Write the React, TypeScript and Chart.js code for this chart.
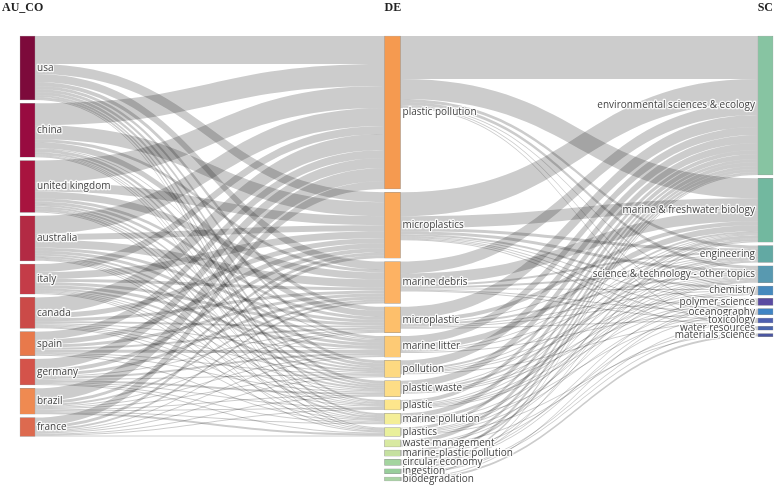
import React, { useEffect, useRef } from 'react';
import { Chart, registerables } from 'chart.js';

Chart.register(...registerables);

// ---------- data ----------
const columnTitles = ['AU_CO', 'DE', 'SC'];

const countries = ['usa', 'china', 'united kingdom', 'australia', 'italy', 'canada', 'spain', 'germany', 'brazil', 'france'];
const countryColors = ['#7d0a3b', '#980b40', '#a8143f', '#b32a44', '#c43c48', '#cb4a48', '#e8794b', '#d4534a', '#ef8a51', '#dd6a4f'];

const keywords = ['plastic pollution', 'microplastics', 'marine debris', 'microplastic', 'marine litter', 'pollution', 'plastic waste', 'plastic', 'marine pollution', 'plastics', 'waste management', 'marine-plastic pollution', 'circular economy', 'ingestion', 'biodegradation'];
const keywordColors = ['#f59a50', '#fba95b', '#fdb263', '#fdbf6b', '#fdca75', '#fdd981', '#fddd86', '#fde68c', '#f4ee98', '#e9f09c', '#d8e9a1', '#c5e0a0', '#a4d49f', '#98ce9b', '#a9d4a4'];

const subjects = ['environmental sciences & ecology', 'marine & freshwater biology', 'engineering', 'science & technology - other topics', 'chemistry', 'polymer science', 'oceanography', 'toxicology', 'water resources', 'materials science'];
const subjectColors = ['#87c4a2', '#72b89f', '#62a9a3', '#5899b0', '#4689bd', '#5a4ba1', '#3f84c4', '#4e60b0', '#4a66ad', '#4b56a0'];

// country -> keyword flows (rows: countries, columns: first 10 keywords)
const countryKeywordFlows = [
  [28, 10, 8, 4, 3, 3, 3, 2, 2, 1],
  [22, 14, 3, 6, 1, 3, 2, 1, 1, 1],
  [22, 9, 7, 3, 3, 2, 2, 1, 2, 1],
  [18, 6, 8, 3, 3, 2, 2, 1, 1, 1],
  [8, 7, 3, 3, 3, 2, 1, 1, 1, 1],
  [16, 5, 3, 2, 1, 1, 1, 1, 1, 0],
  [8, 5, 3, 2, 3, 1, 1, 0, 1, 0],
  [10, 4, 3, 1, 2, 1, 2, 1, 1, 1],
  [13, 3, 2, 1, 1, 1, 1, 1, 1, 2],
  [8, 3, 2, 1, 1, 1, 1, 1, 0, 1],
];

// keyword -> subject flows (rows: keywords, columns: subjects)
const keywordSubjectFlows = [
  [43, 20, 3, 3, 1, 0, 1, 0, 1, 0],
  [24, 12, 3, 3, 2, 1, 1, 1, 1, 0],
  [12, 11, 2, 2, 1, 0, 1, 1, 0, 0],
  [12, 4, 1, 2, 1, 1, 0, 1, 0, 0],
  [8, 6, 1, 1, 0, 0, 1, 0, 0, 0],
  [8, 2, 1, 1, 1, 0, 0, 1, 0, 0],
  [7, 1, 2, 1, 1, 1, 0, 0, 0, 0],
  [4, 1, 1, 1, 1, 1, 0, 0, 0, 0],
  [5, 3, 0, 1, 0, 0, 1, 0, 0, 0],
  [3, 1, 1, 1, 0, 1, 0, 0, 0, 1],
  [4, 0, 1, 1, 0, 0, 0, 0, 1, 0],
  [3, 2, 0, 0, 0, 0, 1, 0, 0, 0],
  [3, 0, 1, 0, 1, 1, 0, 0, 0, 0],
  [2, 1, 0, 0, 0, 0, 0, 1, 1, 0],
  [1, 0, 0, 0, 0, 1, 0, 0, 0, 2],
];

// ---------- layout constants ----------
const colX = [0, 0.4946, 1];
const nodeWidth = [15, 16, 15];
const nodePad = 3.3;
const labelFont = "10px 'Open Sans', sans-serif";
const titleFont = "bold 12px 'Liberation Serif', serif";

type NodeL = { col: number; idx: number; name: string; color: string; value: number; y0: number; y1: number; inOff: number; outOff: number };
type LinkL = { sc: number; si: number; tc: number; ti: number; v: number; sy0: number; ty0: number };

function buildLayout() {
  const names = [countries, keywords, subjects];
  const colors = [countryColors, keywordColors, subjectColors];
  const links: LinkL[] = [];
  countryKeywordFlows.forEach((row, i) => row.forEach((v, j) => { if (v > 0) links.push({ sc: 0, si: i, tc: 1, ti: j, v, sy0: 0, ty0: 0 }); }));
  keywordSubjectFlows.forEach((row, i) => row.forEach((v, j) => { if (v > 0) links.push({ sc: 1, si: i, tc: 2, ti: j, v, sy0: 0, ty0: 0 }); }));
  const nodes: NodeL[][] = names.map((arr, c) => arr.map((name, i) => {
    const inV = links.filter(l => l.tc === c && l.ti === i).reduce((a, l) => a + l.v, 0);
    const outV = links.filter(l => l.sc === c && l.si === i).reduce((a, l) => a + l.v, 0);
    return { col: c, idx: i, name, color: colors[c][i], value: Math.max(inV, outV), y0: 0, y1: 0, inOff: 0, outOff: 0 };
  }));
  let yMax = 0;
  nodes.forEach(col => {
    let y = 0;
    col.forEach((n, k) => { n.y0 = y; n.y1 = y + n.value; y = n.y1 + (k < col.length - 1 ? nodePad : 0); });
    yMax = Math.max(yMax, y);
  });
  // outgoing ordered by target position, incoming ordered by source position
  const sorted = [...links].sort((a, b) => a.tc - b.tc || a.ti - b.ti);
  sorted.forEach(l => { const s = nodes[l.sc][l.si]; l.sy0 = s.y0 + s.outOff; s.outOff += l.v; });
  const sorted2 = [...links].sort((a, b) => a.sc - b.sc || a.si - b.si);
  sorted2.forEach(l => { const t = nodes[l.tc][l.ti]; l.ty0 = t.y0 + t.inOff; t.inOff += l.v; });
  return { nodes, links, yMax };
}

function drawText(ctx: CanvasRenderingContext2D, text: string, x: number, y: number, align: CanvasTextAlign) {
  ctx.font = labelFont;
  ctx.textAlign = align;
  ctx.textBaseline = 'middle';
  ctx.lineJoin = 'round';
  ctx.strokeStyle = 'rgba(255,255,255,0.85)';
  ctx.lineWidth = 2.5;
  ctx.strokeText(text, x, y);
  ctx.fillStyle = '#444';
  ctx.fillText(text, x, y);
}

export default function App() {
  const ref = useRef<HTMLCanvasElement | null>(null);
  useEffect(() => {
    if (!ref.current) return;
    const { nodes, links, yMax } = buildLayout();

    const sankeyPlugin = {
      id: 'sankeyLinks',
      beforeDatasetsDraw(chart: any) {
        const ctx: CanvasRenderingContext2D = chart.ctx;
        const xs = chart.scales.x, ys = chart.scales.y;
        ctx.save();
        ctx.fillStyle = 'rgba(0,0,0,0.2)';
        links.forEach(l => {
          const x0 = xs.getPixelForValue(colX[l.sc]) + nodeWidth[l.sc] / 2;
          const x1 = xs.getPixelForValue(colX[l.tc]) - nodeWidth[l.tc] / 2;
          const xm = (x0 + x1) / 2;
          const a0 = ys.getPixelForValue(l.sy0), a1 = ys.getPixelForValue(l.sy0 + l.v);
          const b0 = ys.getPixelForValue(l.ty0), b1 = ys.getPixelForValue(l.ty0 + l.v);
          ctx.beginPath();
          ctx.moveTo(x0, a0);
          ctx.bezierCurveTo(xm, a0, xm, b0, x1, b0);
          ctx.lineTo(x1, b1);
          ctx.bezierCurveTo(xm, b1, xm, a1, x0, a1);
          ctx.closePath();
          ctx.fill();
        });
        ctx.restore();
      },
      afterDatasetsDraw(chart: any) {
        const ctx: CanvasRenderingContext2D = chart.ctx;
        const xs = chart.scales.x, ys = chart.scales.y;
        ctx.save();
        nodes.forEach((col, c) => col.forEach(n => {
          const xc = xs.getPixelForValue(colX[c]);
          const yc = ys.getPixelForValue((n.y0 + n.y1) / 2);
          if (c === 2) drawText(ctx, n.name, xc - nodeWidth[c] / 2 - 3, yc, 'right');
          else drawText(ctx, n.name, xc + nodeWidth[c] / 2 + 2, yc, 'left');
        }));
        ctx.font = titleFont;
        ctx.fillStyle = '#222';
        ctx.textBaseline = 'middle';
        ctx.textAlign = 'left';
        ctx.fillText(columnTitles[0], 2, 8);
        ctx.fillText(columnTitles[1], xs.getPixelForValue(colX[1]) - nodeWidth[1] / 2, 8);
        ctx.textAlign = 'right';
        ctx.fillText(columnTitles[2], xs.getPixelForValue(colX[2]) + nodeWidth[2] / 2, 8);
        ctx.restore();
      },
    };

    const datasets = nodes.map((col, c) => ({
      label: columnTitles[c],
      data: col.map(n => ({ x: colX[c], y: [n.y0, n.y1] })),
      backgroundColor: col.map(n => n.color),
      borderColor: 'rgba(68,68,68,0.55)',
      borderWidth: 0.5,
      borderSkipped: false,
      barThickness: nodeWidth[c],
      grouped: false,
      clip: false,
    }));

    const chart = new Chart(ref.current, {
      type: 'bar',
      data: { datasets: datasets as any },
      options: {
        animation: false,
        responsive: true,
        maintainAspectRatio: false,
        layout: { padding: { left: 27.5, right: 10.5, top: 36, bottom: 6 } },
        plugins: { legend: { display: false }, tooltip: { enabled: false } },
        scales: {
          x: { type: 'linear', min: 0, max: 1, offset: false, display: false },
          y: { type: 'linear', min: 0, max: yMax, reverse: true, display: false },
        },
      },
      plugins: [sankeyPlugin],
    });
    return () => chart.destroy();
  }, []);

  return (
    <div style={{ position: 'fixed', left: 0, top: 0, width: 776, height: 487, background: '#fff' }}>
      <canvas ref={ref} />
    </div>
  );
}
